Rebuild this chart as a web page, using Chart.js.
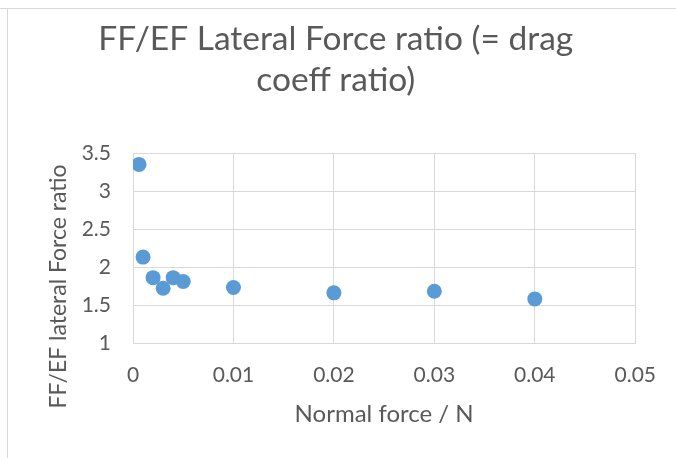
<!DOCTYPE html>
<html><head><meta charset="utf-8">
<script src="https://cdn.jsdelivr.net/npm/chart.js@4/dist/chart.umd.min.js"></script>
<style>html,body{margin:0;padding:0;background:#fff}canvas{display:block}</style>
</head><body>
<canvas id="c" width="676" height="458"></canvas>
<script>
const chartTitle = ['FF/EF Lateral Force ratio (= drag', 'coeff ratio)'];
const xAxisTitle = 'Normal force / N';
const yAxisTitle = 'FF/EF lateral Force ratio';
const normalForce = [0.0006, 0.001, 0.002, 0.003, 0.004, 0.005, 0.01, 0.02, 0.03, 0.04];
const forceRatio = [3.35, 2.13, 1.86, 1.72, 1.86, 1.81, 1.73, 1.66, 1.68, 1.58];
const xTicks = [0, 0.01, 0.02, 0.03, 0.04, 0.05];
const yTicks = [1, 1.5, 2, 2.5, 3, 3.5];

const TEXT = '#595959';
const GRID = '#d9d9d9';
const FONT = 'Lato';

const points = normalForce.map((x, i) => ({ x: x, y: forceRatio[i] }));

const framePlugin = {
  id: 'frame',
  beforeDraw(chart) {
    const ctx = chart.ctx;
    ctx.save();
    ctx.fillStyle = '#fff';
    ctx.fillRect(0, 0, chart.width, chart.height);
    ctx.strokeStyle = GRID;
    ctx.lineWidth = 1;
    ctx.beginPath();
    ctx.moveTo(0, 8.5); ctx.lineTo(chart.width, 8.5);
    ctx.moveTo(7.5, 8.5); ctx.lineTo(7.5, chart.height);
    ctx.stroke();
    ctx.restore();
  },
  afterDraw(chart) {
    const ctx = chart.ctx;
    ctx.save();
    ctx.translate(66, 286.5);
    ctx.rotate(-Math.PI / 2);
    ctx.font = '23px ' + FONT;
    ctx.fillStyle = TEXT;
    ctx.textAlign = 'center';
    ctx.textBaseline = 'alphabetic';
    ctx.fillText(yAxisTitle, 0, 0);
    ctx.restore();
  }
};

new Chart(document.getElementById('c'), {
  type: 'scatter',
  data: {
    datasets: [{
      data: points,
      backgroundColor: '#5B9BD5',
      borderColor: '#5B9BD5',
      borderWidth: 0,
      pointRadius: 7.5,
      pointHoverRadius: 7.5
    }]
  },
  options: {
    responsive: false,
    animation: false,
    devicePixelRatio: 1,
    layout: { padding: { left: 35, right: 39.5, top: 0, bottom: 0 } },
    plugins: {
      legend: { display: false },
      tooltip: { enabled: false },
      title: {
        display: true,
        text: chartTitle,
        color: TEXT,
        font: { family: FONT, size: 33.5, weight: 'normal', lineHeight: 41 / 33.5 },
        padding: { top: 19, bottom: 52 }
      }
    },
    scales: {
      x: {
        type: 'linear',
        min: 0, max: 0.05,
        afterBuildTicks: s => { s.ticks = xTicks.map(v => ({ value: v })); },
        afterFit: s => { s.height = 115; },
        grid: { color: GRID, lineWidth: 1, drawTicks: false },
        border: { color: GRID, width: 1 },
        ticks: { color: TEXT, font: { family: FONT, size: 21 }, padding: 20, maxRotation: 0, callback: v => String(v) },
        title: { display: true, text: xAxisTitle, color: TEXT, font: { family: FONT, size: 24 }, padding: { top: 4, bottom: 29 } }
      },
      y: {
        type: 'linear',
        min: 1, max: 3.5,
        afterBuildTicks: s => { s.ticks = yTicks.map(v => ({ value: v })); },
        afterFit: s => { s.width = 98; },
        grid: { color: GRID, lineWidth: 1, drawTicks: false },
        border: { color: GRID, width: 1 },
        ticks: { color: TEXT, font: { family: FONT, size: 21 }, padding: 22, callback: v => String(v) }
      }
    }
  },
  plugins: [framePlugin]
});
</script>
</body></html>
